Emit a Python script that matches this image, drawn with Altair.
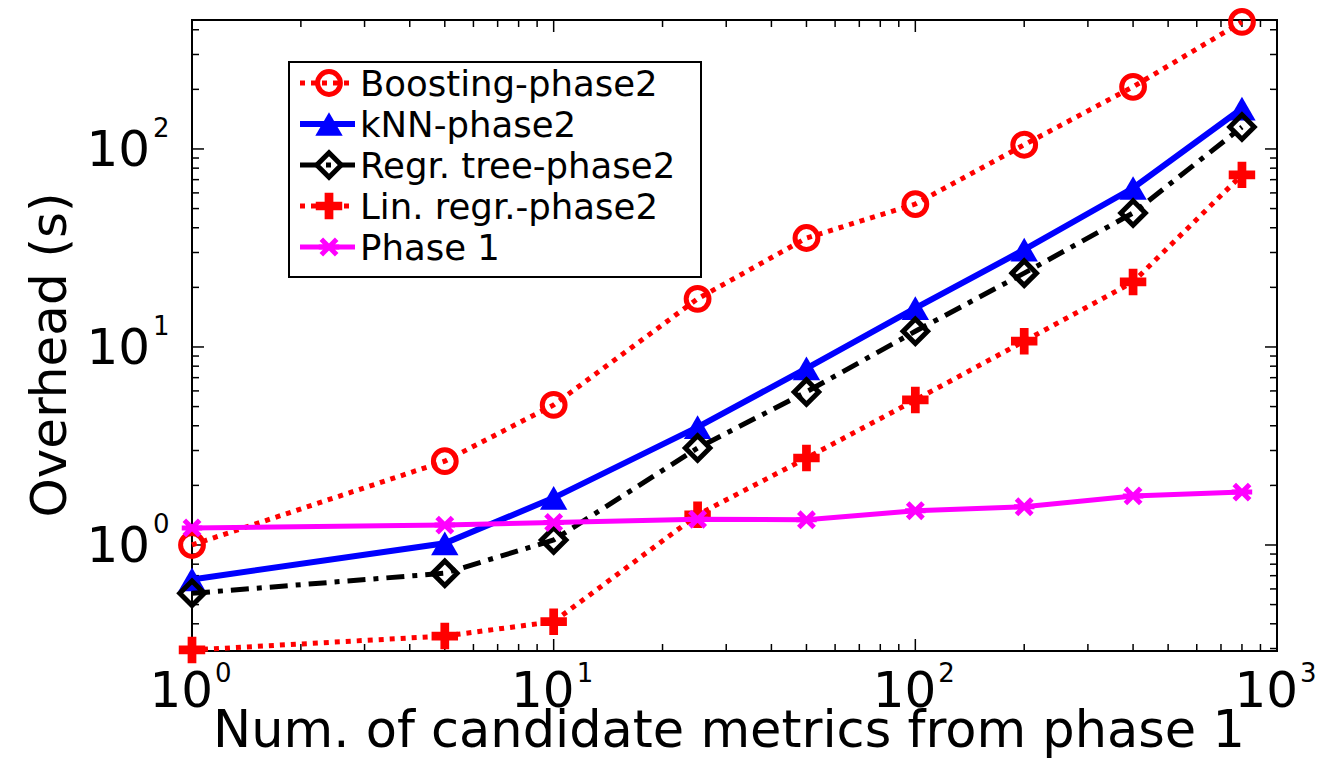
import altair as alt
import pandas as pd

# ---- data ----
xs = [1, 5, 10, 25, 50, 100, 200, 400, 800]
boosting = [1.0, 2.65, 5.1, 17.5, 35.5, 52.7, 105, 206, 438]
knn = [0.67, 1.02, 1.73, 3.94, 7.8, 15.7, 31, 63.5, 160]
regr_tree = [0.57, 0.72, 1.06, 3.09, 5.93, 12.0, 23.6, 47.5, 129]
lin_regr = [0.295, 0.347, 0.41, 1.42, 2.75, 5.4, 10.7, 21.3, 74]
phase1 = [1.22, 1.26, 1.30, 1.35, 1.34, 1.49, 1.56, 1.77, 1.85]

series_names = ["Boosting-phase2", "kNN-phase2", "Regr. tree-phase2",
                "Lin. regr.-phase2", "Phase 1"]
series_values = [boosting, knn, regr_tree, lin_regr, phase1]

x_major = [1, 10, 100, 1000]
x_exp = ["0", "1", "2", "3"]
x_minor = [2, 3, 4, 5, 6, 7, 8, 9, 20, 30, 40, 50, 60, 70, 80, 90,
           200, 300, 400, 500, 600, 700, 800, 900]
y_major = [1, 10, 100]
y_exp = ["0", "1", "2"]
y_minor = [0.3, 0.4, 0.5, 0.6, 0.7, 0.8, 0.9, 2, 3, 4, 5, 6, 7, 8, 9,
           20, 30, 40, 50, 60, 70, 80, 90, 200, 300, 400]

x_title = "Num. of candidate metrics from phase 1"
y_title = "Overhead (s)"

FONT = "DejaVu Sans"
W, H = 1085, 631
xscale = alt.Scale(type="log", domain=[1, 1000], nice=False)
yscale = alt.Scale(type="log", domain=[0.2915, 448], nice=False)

PLUS = "M-1,-0.33H-0.33V-1H0.33V-0.33H1V0.33H0.33V1H-0.33V0.33H-1Z"
STAR = "M-1,0H1M-0.75,-0.75L0.75,0.75M-0.75,0.75L0.75,-0.75"

styles = [
    dict(color="#ff0000", dash=[5, 6], lw=5, shape="circle", size=520, filled=False, sw=5),
    dict(color="#0000ff", dash=None, lw=6, shape="triangle-up", size=750, filled=True, sw=3),
    dict(color="#000000", dash=[18, 8, 5, 8], lw=5, shape="diamond", size=600, filled=False, sw=5),
    dict(color="#ff0000", dash=[5, 6], lw=5, shape=PLUS, size=700, filled=True, sw=1),
    dict(color="#ff00ff", dash=None, lw=5, shape=STAR, size=420, filled=False, sw=5),
]

X = lambda: alt.X("x:Q", scale=xscale, axis=None)
Y = lambda: alt.Y("y:Q", scale=yscale, axis=None)

layers = []

# ---- inward ticks (all four sides) ----
def xticks(vals, L):
    d = pd.DataFrame({"v": vals})
    b = alt.Chart(d).mark_rule(color="black", strokeWidth=1.5).encode(
        x=alt.X("v:Q", scale=xscale, axis=None), y=alt.value(H), y2=alt.value(H - L))
    t = alt.Chart(d).mark_rule(color="black", strokeWidth=1.5).encode(
        x=alt.X("v:Q", scale=xscale, axis=None), y=alt.value(0), y2=alt.value(L))
    return [b, t]

def yticks(vals, L):
    d = pd.DataFrame({"v": vals})
    l = alt.Chart(d).mark_rule(color="black", strokeWidth=1.5).encode(
        y=alt.Y("v:Q", scale=yscale, axis=None), x=alt.value(0), x2=alt.value(L))
    r = alt.Chart(d).mark_rule(color="black", strokeWidth=1.5).encode(
        y=alt.Y("v:Q", scale=yscale, axis=None), x=alt.value(W), x2=alt.value(W - L))
    return [l, r]

layers += xticks(x_major, 12) + xticks(x_minor, 7)
layers += yticks(y_major, 12) + yticks(y_minor, 7)

# ---- series ----
for name, vals, st in zip(series_names, series_values, styles):
    df = pd.DataFrame({"x": xs, "y": vals, "series": name})
    lkw = dict(color=st["color"], strokeWidth=st["lw"], strokeCap="butt")
    if st["dash"]:
        lkw["strokeDash"] = st["dash"]
    line = alt.Chart(df).mark_line(**lkw).encode(x=X(), y=Y())
    pkw = dict(shape=st["shape"], size=st["size"], filled=st["filled"],
               color=st["color"], strokeWidth=st["sw"], opacity=1)
    pts = alt.Chart(df).mark_point(**pkw).encode(x=X(), y=Y())
    layers += [line, pts]

# ---- tick labels ----
xl = pd.DataFrame({"v": x_major, "e": x_exp})
layers.append(alt.Chart(xl).mark_text(align="right", baseline="alphabetic", font=FONT,
                                      fontSize=50, dx=21, color="black").encode(
    x=alt.X("v:Q", scale=xscale, axis=None), y=alt.value(H + 56), text=alt.value("10")))
layers.append(alt.Chart(xl).mark_text(align="left", baseline="alphabetic", font=FONT,
                                      fontSize=26, dx=23, color="black").encode(
    x=alt.X("v:Q", scale=xscale, axis=None), y=alt.value(H + 31), text="e:N"))

yl = pd.DataFrame({"v": y_major, "e": y_exp})
layers.append(alt.Chart(yl).mark_text(align="right", baseline="alphabetic", font=FONT,
                                      fontSize=50, dy=17, color="black").encode(
    y=alt.Y("v:Q", scale=yscale, axis=None), x=alt.value(-42), text=alt.value("10")))
layers.append(alt.Chart(yl).mark_text(align="left", baseline="alphabetic", font=FONT,
                                      fontSize=26, dy=-12, color="black").encode(
    y=alt.Y("v:Q", scale=yscale, axis=None), x=alt.value(-39), text="e:N"))

# ---- axis titles ----
layers.append(alt.Chart(pd.DataFrame({"t": [x_title]})).mark_text(
    align="center", baseline="alphabetic", font=FONT, fontSize=51, color="black").encode(
    x=alt.value(537), y=alt.value(H + 96), text="t:N"))
layers.append(alt.Chart(pd.DataFrame({"t": [y_title]})).mark_text(
    align="center", baseline="middle", font=FONT, fontSize=50, angle=270, color="black").encode(
    x=alt.value(-141), y=alt.value(335), text="t:N"))

# ---- legend ----
layers.append(alt.Chart(pd.DataFrame({"a": [0]})).mark_rect(
    fill="white", stroke="black", strokeWidth=2).encode(
    x=alt.value(97), x2=alt.value(509), y=alt.value(42), y2=alt.value(257)))
for i, (name, st) in enumerate(zip(series_names, styles)):
    ry = 63 + 41 * i
    d1 = pd.DataFrame({"t": [name]})
    rkw = dict(color=st["color"], strokeWidth=st["lw"], strokeCap="butt")
    if st["dash"]:
        rkw["strokeDash"] = st["dash"]
    layers.append(alt.Chart(d1).mark_rule(**rkw).encode(
        x=alt.value(108), x2=alt.value(163), y=alt.value(ry)))
    layers.append(alt.Chart(d1).mark_point(shape=st["shape"], size=st["size"], filled=st["filled"],
                                          color=st["color"], strokeWidth=st["sw"], opacity=1).encode(
        x=alt.value(137), y=alt.value(ry)))
    layers.append(alt.Chart(d1).mark_text(align="left", baseline="alphabetic", font=FONT,
                                         fontSize=35.5, color="black").encode(
        x=alt.value(168), y=alt.value(ry + 13), text="t:N"))

chart = alt.layer(*layers).properties(
    width=W, height=H,
    autosize=alt.AutoSizeParams(type="none"),
    padding={"left": 184, "top": 12, "right": 44, "bottom": 107},
    background="white",
).configure_view(stroke="black", strokeWidth=2)

chart.save("out.html", embed_options={"renderer": "svg", "actions": False})
